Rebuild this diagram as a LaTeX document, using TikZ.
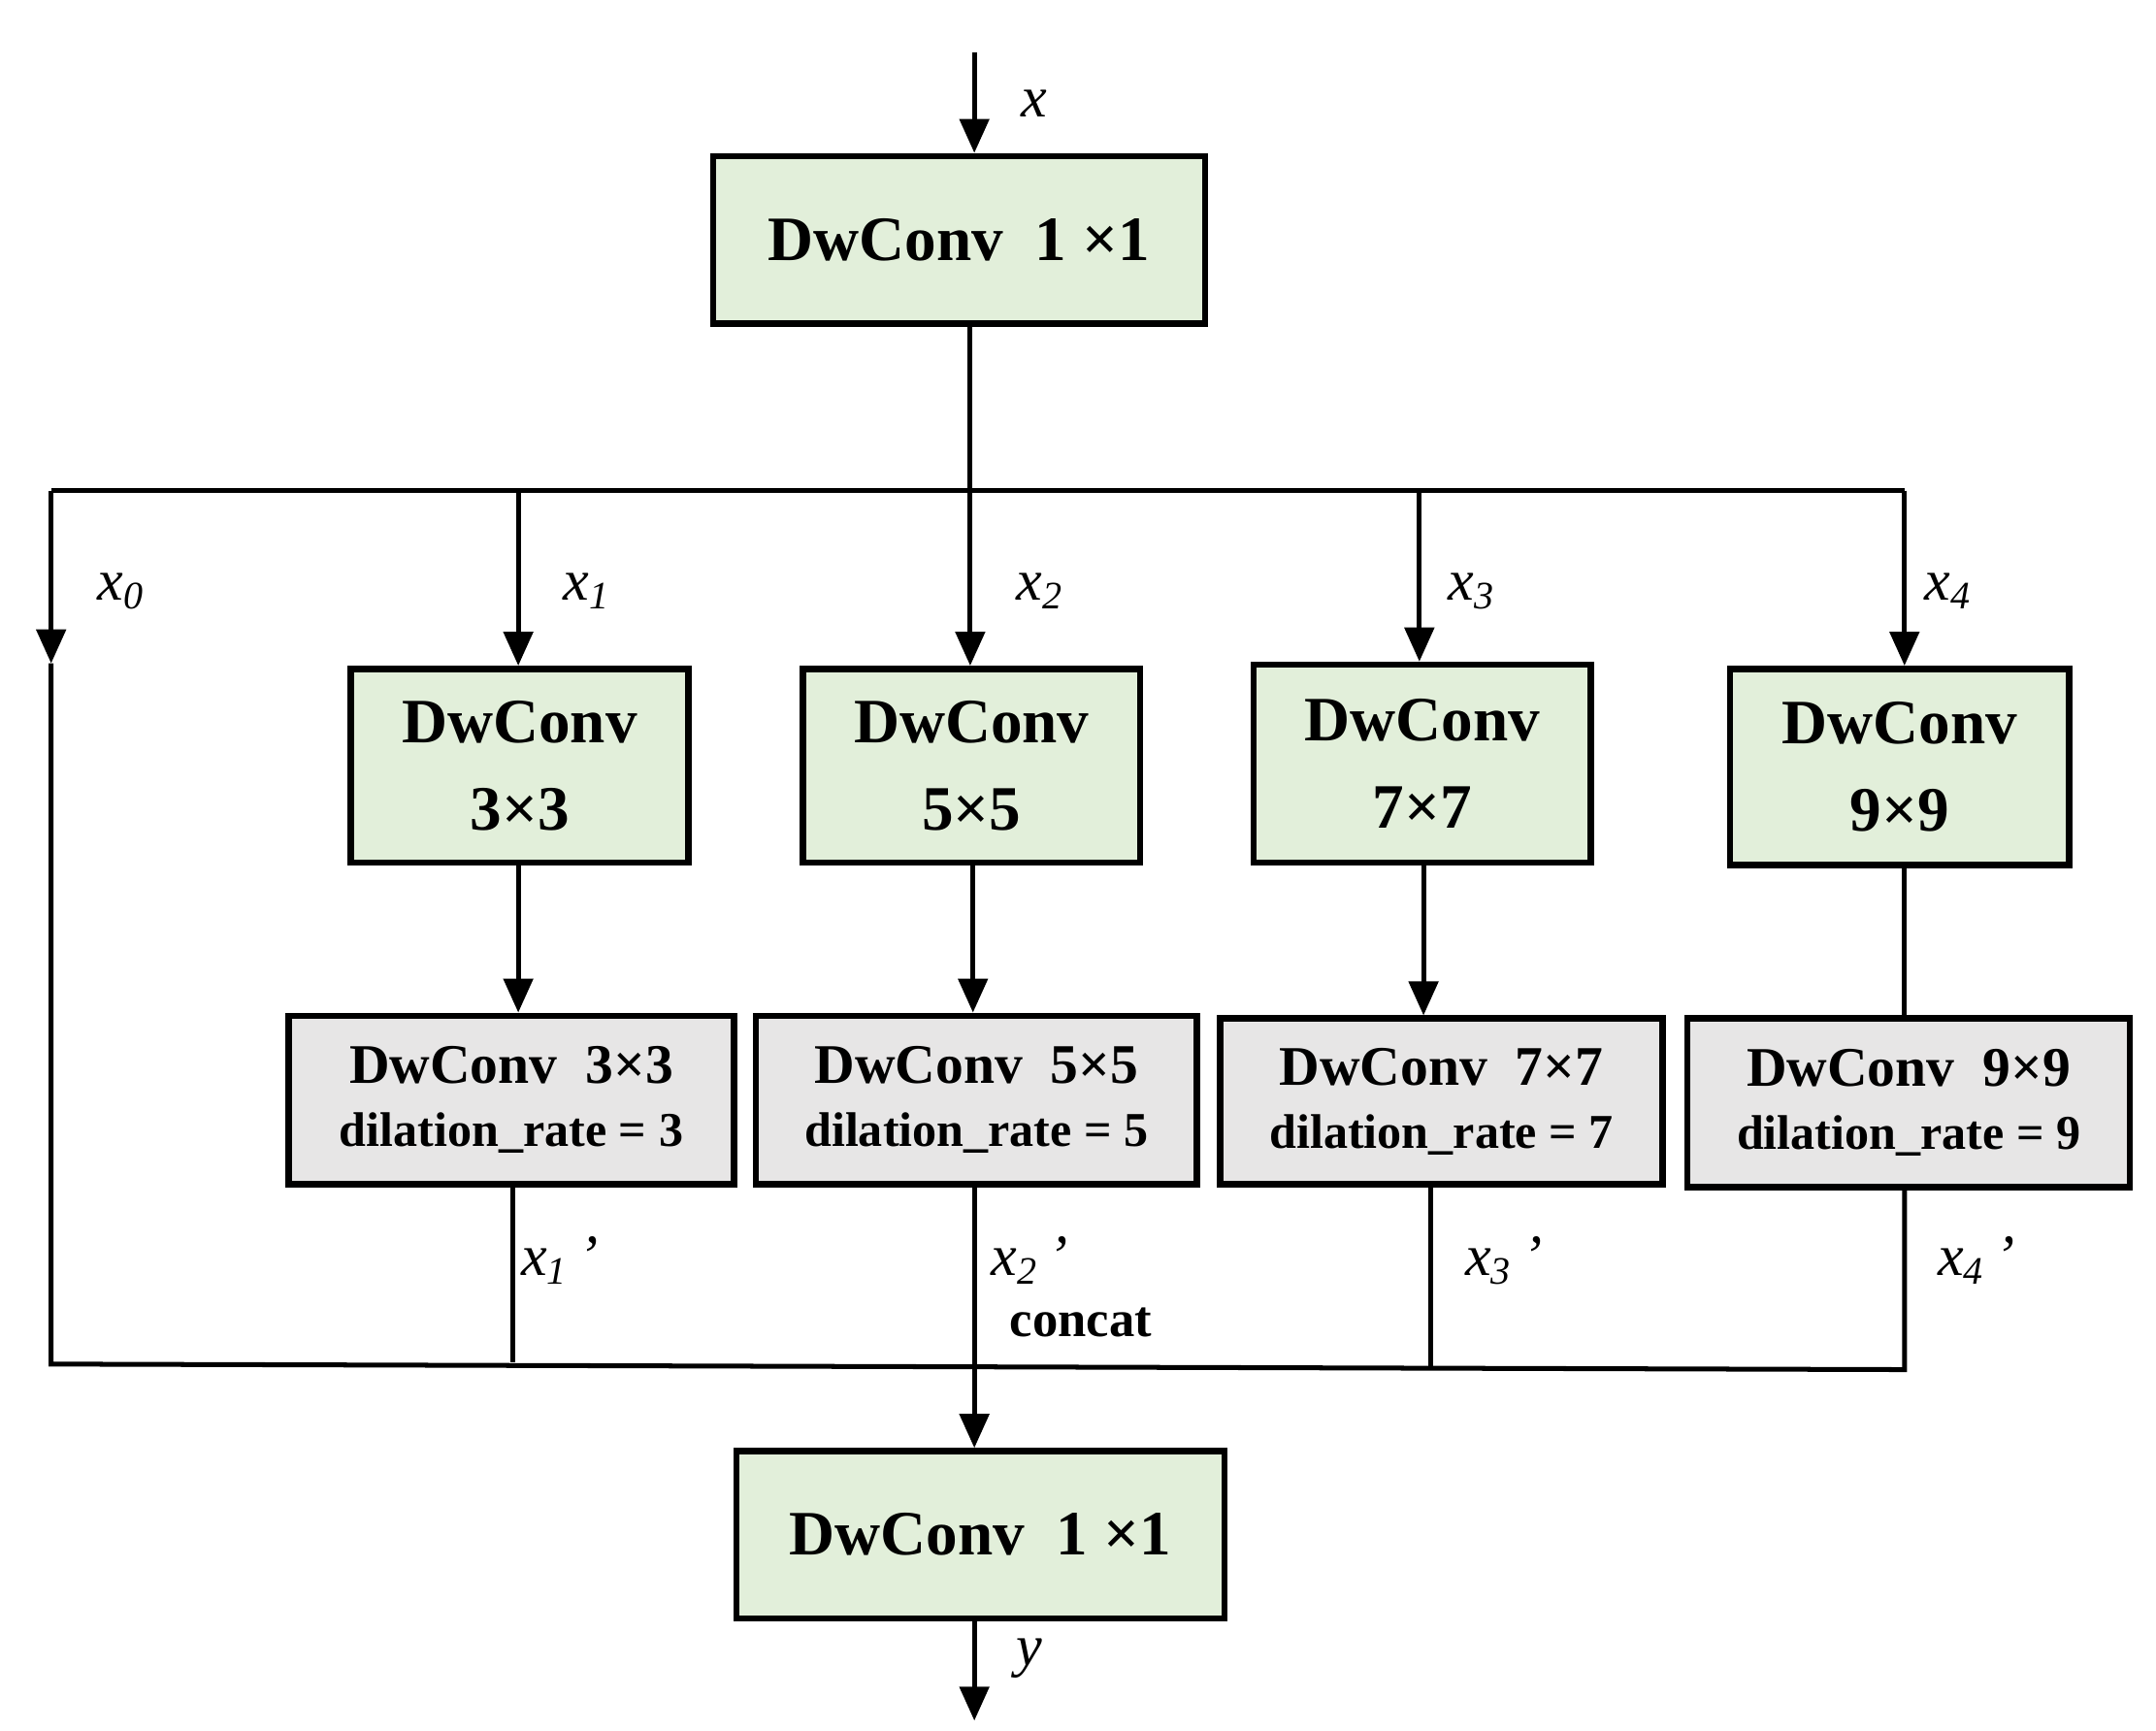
\documentclass[tikz,border=0pt]{standalone}
\usepackage{fontspec}
\setmainfont{Liberation Serif}
\usetikzlibrary{arrows.meta}
\begin{document}
\begin{tikzpicture}[x=0.01cm,y=-0.01cm,
  line width=1pt,
  arr/.style={-{Triangle[length=7pt,width=6pt]}},
  gbox/.style={draw,fill=green!10!white!88!yellow,fill=green!12,minimum width=#1},
  ln/.style={line width=1pt},
  lab/.style={font=\fontsize{12}{14}\selectfont\itshape}]
\definecolor{gfill}{HTML}{E2EFDA}
\definecolor{yfill}{HTML}{E7E6E6}
\useasboundingbox (0,0) rectangle (1560,1252);
\tikzset{
 green/.style={draw,fill=gfill,line width=1.3pt,inner sep=0pt,font=\bfseries\fontsize{13}{16}\selectfont,align=center},
 grey/.style={draw,fill=yfill,line width=1.3pt,inner sep=0pt,align=center}}
% boxes
\node[green,minimum width=356\pgflinewidth*0+3.56cm,minimum height=1.21cm] (top) at (694,173.5) {DwConv\ \ 1 ×1};
\node[green,minimum width=2.44cm,minimum height=1.40cm] (g1) at (376,554) {DwConv\\[2pt]3×3};
\node[green,minimum width=2.44cm,minimum height=1.40cm] (g2) at (703,554) {DwConv\\[2pt]5×5};
\node[green,minimum width=2.44cm,minimum height=1.43cm] (g3) at (1029,552.5) {DwConv\\[2pt]7×7};
\node[green,minimum width=2.45cm,minimum height=1.42cm] (g4) at (1374.5,555) {DwConv\\[2pt]9×9};
\newcommand{\gtext}[2]{{\fontsize{11.5}{14}\selectfont\bfseries DwConv\ \ #1}\\[1pt]{\fontsize{10}{12}\selectfont\bfseries dilation\_rate = #2}}
\node[grey,minimum width=3.22cm,minimum height=1.22cm] (d1) at (370,796) {\gtext{3×3}{3}};
\node[grey,minimum width=3.19cm,minimum height=1.22cm] (d2) at (706.5,796) {\gtext{5×5}{5}};
\node[grey,minimum width=3.20cm,minimum height=1.20cm] (d3) at (1043,797) {\gtext{7×7}{7}};
\node[grey,minimum width=3.20cm,minimum height=1.22cm] (d4) at (1381,798) {\gtext{9×9}{9}};
\node[green,minimum width=3.53cm,minimum height=1.21cm] (bot) at (709.5,1110.5) {DwConv\ \ 1 ×1};
% coordinates
\coordinate (in) at (705,38);
\coordinate (out) at (705,1245);
\coordinate (bus0) at (37,355);
\coordinate (bus4) at (1378,355);
\coordinate (x0end) at (37,480);
\coordinate (c0) at (37,987);
\coordinate (c4) at (1378,991);
% top
\draw[arr] (in) -- (top.north -| in);
\draw (top.south -| 702,0) -- (702,355);
\draw (bus0) -- (bus4);
\draw[arr] (bus0) -- (x0end);
\draw[arr] (375,355) -- (g1.north -| 375,0);
\draw[arr] (702,355) -- (g2.north -| 702,0);
\draw[arr] (1027,355) -- (g3.north -| 1027,0);
\draw[arr] (bus4) -- (g4.north -| bus4);
\draw[arr] (g1.south -| 375,0) -- (d1.north -| 375,0);
\draw[arr] (g2.south -| 704,0) -- (d2.north -| 704,0);
\draw[arr] (g3.south -| 1030,0) -- (d3.north -| 1030,0);
\draw (g4.south -| 1378,0) -- (d4.north -| 1378,0);
% bottom
\draw (x0end) -- (c0) -- (c4) -- (d4.south -| c4);
\draw (d1.south -| 371,0) -- (371,986);
\draw (d3.south -| 1035,0) -- (1035,991);
\draw[arr] (d2.south -| 705,0) -- (bot.north -| 705,0);
\draw[arr] (bot.south -| out) -- (out);
% labels
\node[lab] at (748,75) {x};
\node[lab] at (88,428) {x\textsubscript{0}};
\node[lab] at (425,428) {x\textsubscript{1}};
\node[lab] at (753,428) {x\textsubscript{2}};
\node[lab] at (1065,428) {x\textsubscript{3}};
\node[lab] at (1410,428) {x\textsubscript{4}};
\node[lab] at (405,912) {x\textsubscript{1}\,’};
\node[lab] at (745,912) {x\textsubscript{2}\,’};
\node[lab] at (1088,912) {x\textsubscript{3}\,’};
\node[lab] at (1430,912) {x\textsubscript{4}\,’};
\node[font=\bfseries\fontsize{10.5}{12}\selectfont] at (782,957) {concat};
\node[lab] at (745,1200) {y};
\end{tikzpicture}
\end{document}
